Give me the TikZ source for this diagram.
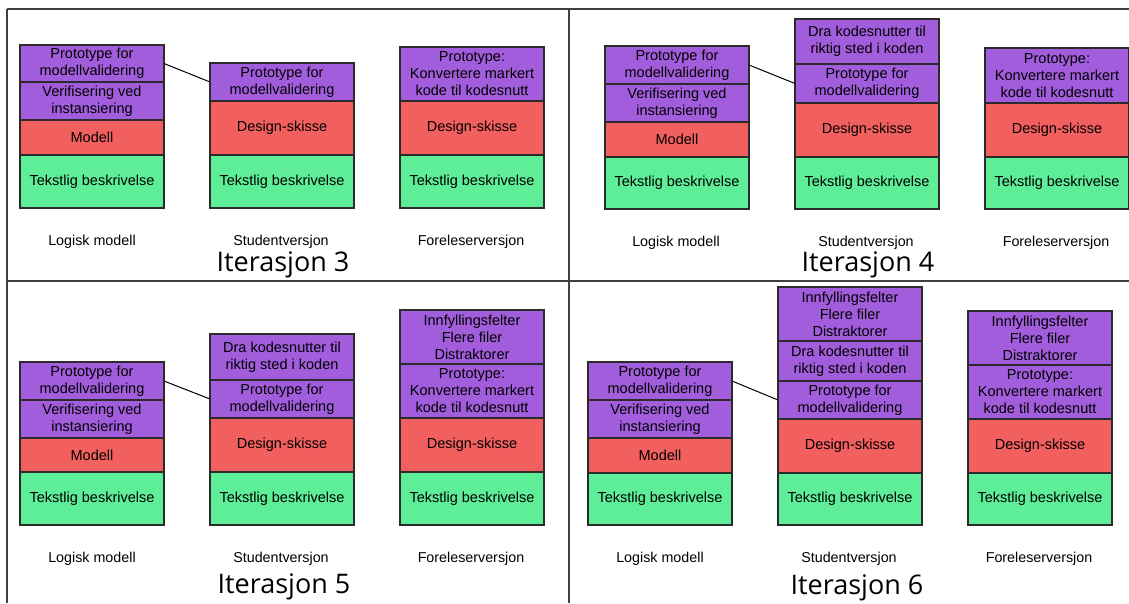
\documentclass[tikz,border=0pt]{standalone}
\usepackage{fontspec}
\setmainfont{Liberation Sans}
\newfontfamily\titlefont{Open Sans}
\definecolor{purp}{HTML}{A25DDC}
\definecolor{redc}{HTML}{F25F5F}
\definecolor{grnc}{HTML}{5EEE97}
\definecolor{edge}{HTML}{2B2B2B}
\tikzset{
  box/.style={draw=edge, line width=1.1pt, minimum width=144pt, inner sep=0pt, outer sep=0pt,
    anchor=north west, align=center, font=\fontsize{14.5}{17}\selectfont},
  pbox/.style={box, fill=purp},
  rbox/.style={box, fill=redc},
  gbox/.style={box, fill=grnc},
  captext/.style={font=\fontsize{14.3}{17}\selectfont, inner sep=0pt},
  ttl/.style={font=\titlefont\fontsize{27}{32}\selectfont, inner sep=0pt},
  frame/.style={draw=black!75, line width=1.3pt},
  conn/.style={draw=black, line width=1pt}
}
\begin{document}
\begin{tikzpicture}[x=1pt, y=-1pt]
\useasboundingbox (0,0) rectangle (1129,603);
% frame
\draw[frame] (7,9) -- (1129,9);
\draw[frame] (7,9) -- (7,603);
\draw[frame] (7,281) -- (1129,281);
\draw[frame] (569,9) -- (569,603);

% ---------- Panel 1: Iterasjon 3 ----------
\node[pbox, minimum height=37pt] (aLP) at (20,45) {Prototype for\\modellvalidering};
\node[pbox, minimum height=38pt] (aLV) at (20,82) {Verifisering ved\\instansiering};
\node[rbox, minimum height=35pt] (aLM) at (20,120) {Modell};
\node[gbox, minimum height=53pt] (aLT) at (20,155) {Tekstlig beskrivelse};
\node[pbox, minimum height=38pt] (aSP) at (210,63) {Prototype for\\modellvalidering};
\node[rbox, minimum height=54pt] (aSD) at (210,101) {Design-skisse};
\node[gbox, minimum height=53pt] (aST) at (210,155) {Tekstlig beskrivelse};
\node[pbox, minimum height=54pt] (aFK) at (400,47) {Prototype:\\Konvertere markert\\kode til kodesnutt};
\node[rbox, minimum height=54pt] (aFD) at (400,101) {Design-skisse};
\node[gbox, minimum height=53pt] (aFT) at (400,155) {Tekstlig beskrivelse};
\draw[conn] (aLP.east) -- (aSP.west);
\node[captext] (aCL) at (92,242) {Logisk modell};
\node[captext] (aCS) at (281,242) {Studentversjon};
\node[captext] (aCF) at (471,242) {Foreleserversjon};
\node[ttl] (aT) at (283,265) {Iterasjon 3};

% ---------- Panel 2: Iterasjon 4 ----------
\node[pbox, minimum height=38pt] (bLP) at (605,46) {Prototype for\\modellvalidering};
\node[pbox, minimum height=38pt] (bLV) at (605,84) {Verifisering ved\\instansiering};
\node[rbox, minimum height=35pt] (bLM) at (605,122) {Modell};
\node[gbox, minimum height=52pt] (bLT) at (605,157) {Tekstlig beskrivelse};
\node[pbox, minimum height=45pt] (bSR) at (795,19) {Dra kodesnutter til\\riktig sted i koden};
\node[pbox, minimum height=39pt] (bSP) at (795,64) {Prototype for\\modellvalidering};
\node[rbox, minimum height=54pt] (bSD) at (795,103) {Design-skisse};
\node[gbox, minimum height=52pt] (bST) at (795,157) {Tekstlig beskrivelse};
\node[pbox, minimum height=55pt] (bFK) at (985,48) {Prototype:\\Konvertere markert\\kode til kodesnutt};
\node[rbox, minimum height=54pt] (bFD) at (985,103) {Design-skisse};
\node[gbox, minimum height=52pt] (bFT) at (985,157) {Tekstlig beskrivelse};
\draw[conn] (bLP.east) -- (bSP.west);
\node[captext] (bCL) at (676,243) {Logisk modell};
\node[captext] (bCS) at (866,243) {Studentversjon};
\node[captext] (bCF) at (1056,243) {Foreleserversjon};
\node[ttl] (bT) at (868,265) {Iterasjon 4};

% ---------- Panel 3: Iterasjon 5 ----------
\node[pbox, minimum height=38pt] (cLP) at (20,362) {Prototype for\\modellvalidering};
\node[pbox, minimum height=38pt] (cLV) at (20,400) {Verifisering ved\\instansiering};
\node[rbox, minimum height=34pt] (cLM) at (20,438) {Modell};
\node[gbox, minimum height=53pt] (cLT) at (20,472) {Tekstlig beskrivelse};
\node[pbox, minimum height=46pt] (cSR) at (210,334) {Dra kodesnutter til\\riktig sted i koden};
\node[pbox, minimum height=38pt] (cSP) at (210,380) {Prototype for\\modellvalidering};
\node[rbox, minimum height=54pt] (cSD) at (210,418) {Design-skisse};
\node[gbox, minimum height=53pt] (cST) at (210,472) {Tekstlig beskrivelse};
\node[pbox, minimum height=54pt] (cFI) at (400,310) {Innfyllingsfelter\\Flere filer\\Distraktorer};
\node[pbox, minimum height=54pt] (cFK) at (400,364) {Prototype:\\Konvertere markert\\kode til kodesnutt};
\node[rbox, minimum height=54pt] (cFD) at (400,418) {Design-skisse};
\node[gbox, minimum height=53pt] (cFT) at (400,472) {Tekstlig beskrivelse};
\draw[conn] (cLP.east) -- (cSP.west);
\node[captext] (cCL) at (92,559) {Logisk modell};
\node[captext] (cCS) at (281,559) {Studentversjon};
\node[captext] (cCF) at (471,559) {Foreleserversjon};
\node[ttl] (cT) at (284,587) {Iterasjon 5};

% ---------- Panel 4: Iterasjon 6 ----------
\node[pbox, minimum height=38pt] (dLP) at (588,362) {Prototype for\\modellvalidering};
\node[pbox, minimum height=38pt] (dLV) at (588,400) {Verifisering ved\\instansiering};
\node[rbox, minimum height=35pt] (dLM) at (588,438) {Modell};
\node[gbox, minimum height=52pt] (dLT) at (588,473) {Tekstlig beskrivelse};
\node[pbox, minimum height=54pt] (dSI) at (778,287) {Innfyllingsfelter\\Flere filer\\Distraktorer};
\node[pbox, minimum height=40pt] (dSR) at (778,341) {Dra kodesnutter til\\riktig sted i koden};
\node[pbox, minimum height=38pt] (dSP) at (778,381) {Prototype for\\modellvalidering};
\node[rbox, minimum height=54pt] (dSD) at (778,419) {Design-skisse};
\node[gbox, minimum height=52pt] (dST) at (778,473) {Tekstlig beskrivelse};
\node[pbox, minimum height=54pt] (dFI) at (968,311) {Innfyllingsfelter\\Flere filer\\Distraktorer};
\node[pbox, minimum height=54pt] (dFK) at (968,365) {Prototype:\\Konvertere markert\\kode til kodesnutt};
\node[rbox, minimum height=54pt] (dFD) at (968,419) {Design-skisse};
\node[gbox, minimum height=52pt] (dFT) at (968,473) {Tekstlig beskrivelse};
\draw[conn] (dLP.east) -- (dSP.west);
\node[captext] (dCL) at (660,559) {Logisk modell};
\node[captext] (dCS) at (849,559) {Studentversjon};
\node[captext] (dCF) at (1039,559) {Foreleserversjon};
\node[ttl] (dT) at (857,588) {Iterasjon 6};
\end{tikzpicture}
\end{document}
